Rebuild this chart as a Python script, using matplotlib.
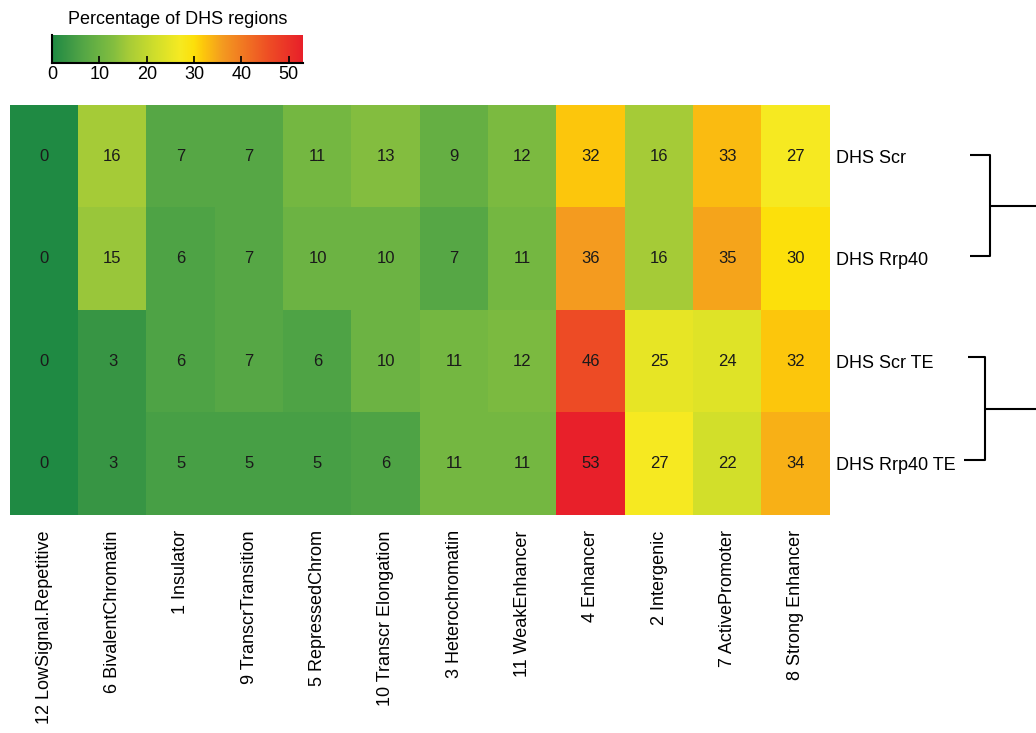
import numpy as np
import matplotlib
matplotlib.use("Agg")
import matplotlib.pyplot as plt
from matplotlib.colors import LinearSegmentedColormap

plt.rcParams['font.family'] = ['Liberation Sans', 'DejaVu Sans']

states = ["12 LowSignal.Repetitive", "6 BivalentChromatin", "1 Insulator",
          "9 TranscrTransition", "5 RepressedChrom", "10 Transcr Elongation",
          "3 Heterochromatin", "11 WeakEnhancer", "4 Enhancer", "2 Intergenic",
          "7 ActivePromoter", "8 Strong Enhancer"]
samples = ["DHS Scr", "DHS Rrp40", "DHS Scr TE", "DHS Rrp40 TE"]

dhs_scr = [0, 16, 7, 7, 11, 13, 9, 12, 32, 16, 33, 27]
dhs_rrp40 = [0, 15, 6, 7, 10, 10, 7, 11, 36, 16, 35, 30]
dhs_scr_te = [0, 3, 6, 7, 6, 10, 11, 12, 46, 25, 24, 32]
dhs_rrp40_te = [0, 3, 5, 5, 5, 6, 11, 11, 53, 27, 22, 34]

cbar_ticks = [0, 10, 20, 30, 40, 50]
vmin, vmax = 0, 53

# green -> yellow -> red gradient
stops = [(0, "#1f8a43"), (3, "#389645"), (6, "#50a446"), (10, "#6db443"),
         (13, "#84be3f"), (16, "#a5cb38"), (22, "#d2df2b"), (27, "#f6ea22"),
         (30, "#fde00b"), (32, "#fdc70c"), (36, "#f49b20"), (46, "#ee4c25"),
         (53, "#e8202a")]
cmap = LinearSegmentedColormap.from_list(
    "gyr", [((v - vmin) / (vmax - vmin), c) for v, c in stops])

data = np.array([dhs_scr, dhs_rrp40, dhs_scr_te, dhs_rrp40_te], dtype=float)

W, H = 1036, 733
fig = plt.figure(figsize=(W / 100, H / 100), dpi=100)

def fx(px):
    return px / W

def fy(py):
    return 1 - py / H

# heatmap
ax = fig.add_axes([fx(10), fy(515), fx(830) - fx(10), fy(105) - fy(515)])
ax.imshow(data, cmap=cmap, vmin=vmin, vmax=vmax, aspect="auto",
          interpolation="nearest")
for i in range(data.shape[0]):
    for j in range(data.shape[1]):
        ax.text(j, i, f"{int(data[i, j])}", ha="center", va="center",
                fontsize=12, color="#1a1a1a")
ax.set_xticks(range(len(states)))
ax.set_xticklabels(states, rotation=90, fontsize=13, va="top", ha="center")
ax.set_yticks(range(len(samples)))
ax.set_yticklabels(samples, fontsize=13)
ax.yaxis.tick_right()
ax.tick_params(length=0, pad=4)
ax.tick_params(axis="x", pad=11)
for s in ax.spines.values():
    s.set_visible(False)

# row dendrogram
dax = fig.add_axes([0, 0, 1, 1], facecolor="none")
dax.set_xlim(0, W)
dax.set_ylim(H, 0)
dax.axis("off")
kw = dict(color="black", lw=1.5, solid_capstyle="butt")
y0, y1 = 155, 256
dax.plot([970, 990, 990, 970], [y0, y0, y1, y1], **kw)
dax.plot([990, 1036], [(y0 + y1) / 2, (y0 + y1) / 2], **kw)
y2, y3 = 357, 460
dax.plot([968, 985, 985, 964], [y2, y2, y3, y3], **kw)
dax.plot([985, 1036], [(y2 + y3) / 2, (y2 + y3) / 2], **kw)

# colour key
cax = fig.add_axes([fx(52), fy(63), fx(303) - fx(52), fy(35) - fy(63)])
grad = np.linspace(vmin, vmax, 256)[None, :]
cax.imshow(grad, cmap=cmap, vmin=vmin, vmax=vmax, aspect="auto",
           extent=[vmin, vmax, 0, 1])
cax.set_xlim(vmin, vmax)
cax.set_yticks([])
cax.set_xticks(cbar_ticks)
cax.tick_params(axis="x", direction="in", length=5, width=1.2,
                labelsize=13, pad=2)
for side in ("top", "right"):
    cax.spines[side].set_visible(False)
cax.spines["bottom"].set_linewidth(1.5)
cax.spines["left"].set_linewidth(1.5)
cax.set_title("Percentage of DHS regions", fontsize=13, pad=8)

fig.savefig("out.png", dpi=100)
